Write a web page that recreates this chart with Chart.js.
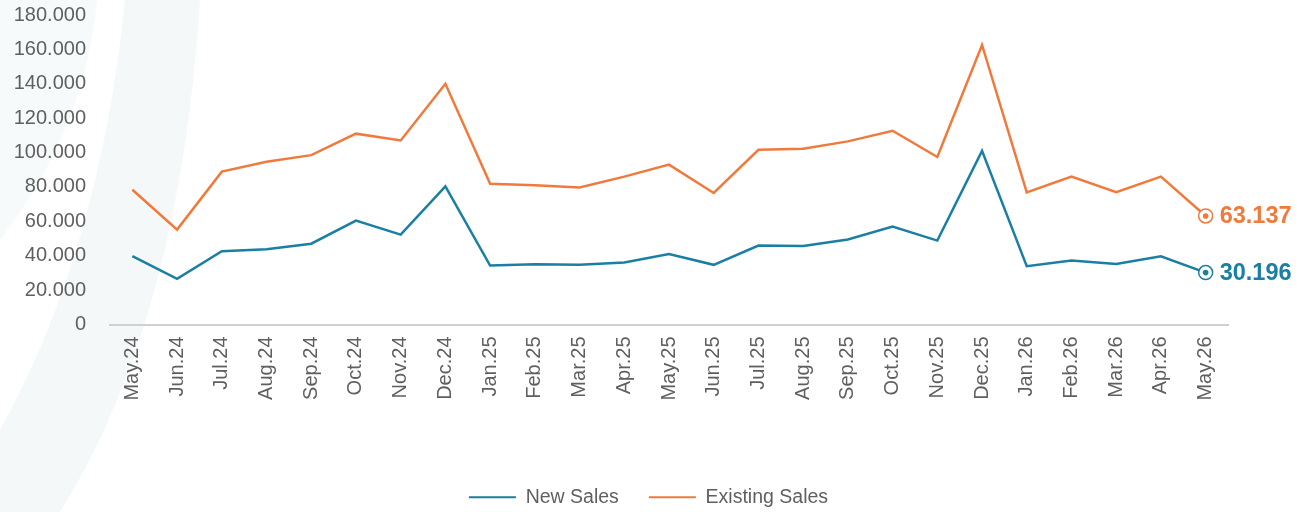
<!DOCTYPE html>
<html>
<head>
<meta charset="utf-8">
<script src="https://cdn.jsdelivr.net/npm/chart.js@4.4.1/dist/chart.umd.min.js"></script>
<style>
  html, body { margin: 0; padding: 0; background: #ffffff; }
  #wrap { width: 1297px; height: 512px; position: relative; }
</style>
</head>
<body>
<div id="wrap"><canvas id="c" width="1297" height="512"></canvas></div>
<script>
const categories = ['May.24','Jun.24','Jul.24','Aug.24','Sep.24','Oct.24','Nov.24','Dec.24',
  'Jan.25','Feb.25','Mar.25','Apr.25','May.25','Jun.25','Jul.25','Aug.25','Sep.25','Oct.25','Nov.25','Dec.25',
  'Jan.26','Feb.26','Mar.26','Apr.26','May.26'];
const newSales = [39700, 26500, 42600, 43800, 47000, 60400, 52300, 80300,
  34300, 35000, 34700, 36000, 41000, 34700, 45900, 45700, 49400, 56900, 48800, 101000,
  33900, 37200, 35200, 39700, 30196];
const existingSales = [78400, 55200, 88900, 94700, 98500, 111000, 107000, 140000,
  81900, 81000, 79700, 86000, 93000, 76500, 101600, 102200, 106500, 112700, 97400, 162600,
  76800, 86100, 77000, 86000, 63137];
const seriesNames = ['New Sales', 'Existing Sales'];
const seriesColors = ['#1a7fa3', '#f07a3c'];
const yMin = 0, yMax = 180000, yStep = 20000;

function fmtThousands(v) {
  return String(Math.round(v)).replace(/\B(?=(\d{3})+(?!\d))/g, '.');
}

const FONT = "'Liberation Sans', Arial, sans-serif";
const TEXT_COLOR = '#5f5f5f';

const bgPlugin = {
  id: 'bgShape',
  beforeDraw(chart) {
    const ctx = chart.ctx;
    ctx.save();
    ctx.fillStyle = '#ffffff';
    ctx.fillRect(0, 0, chart.width, chart.height);
    ctx.fillStyle = '#f4f8f9';
    ctx.beginPath();
    ctx.moveTo(125, 0);
    ctx.lineTo(200, 0);
    ctx.quadraticCurveTo(180, 320, 60, 512);
    ctx.lineTo(0, 512);
    ctx.lineTo(0, 430);
    ctx.quadraticCurveTo(100, 250, 125, 0);
    ctx.closePath();
    ctx.fill();
    ctx.fillStyle = '#f7fafb';
    ctx.beginPath();
    ctx.moveTo(0, 0);
    ctx.lineTo(97, 0);
    ctx.quadraticCurveTo(85, 130, 0, 240);
    ctx.closePath();
    ctx.fill();
    ctx.restore();
  }
};

const endLabelPlugin = {
  id: 'endLabels',
  afterDatasetsDraw(chart) {
    const ctx = chart.ctx;
    ctx.save();
    chart.data.datasets.forEach((ds, i) => {
      const meta = chart.getDatasetMeta(i);
      const last = meta.data.length - 1;
      const pt = meta.data[last];
      const color = ds.borderColor;
      ctx.beginPath();
      ctx.arc(pt.x, pt.y, 2.8, 0, Math.PI * 2);
      ctx.fillStyle = color;
      ctx.fill();
      ctx.font = 'bold 23.5px ' + FONT;
      ctx.textAlign = 'left';
      ctx.textBaseline = 'middle';
      ctx.fillText(fmtThousands(ds.data[last]), pt.x + 14, pt.y + 1);
    });
    ctx.restore();
  }
};

const lastIdx = categories.length - 1;
function mkDataset(name, data, color) {
  return {
    label: name,
    data: data,
    borderColor: color,
    backgroundColor: color,
    borderWidth: 2.5,
    tension: 0,
    pointRadius: (c) => c.dataIndex === lastIdx ? 7 : 0,
    pointHoverRadius: 0,
    pointBackgroundColor: '#ffffff',
    pointBorderColor: color,
    pointBorderWidth: 1.5
  };
}

new Chart(document.getElementById('c'), {
  type: 'line',
  data: {
    labels: categories,
    datasets: [
      mkDataset(seriesNames[0], newSales, seriesColors[0]),
      mkDataset(seriesNames[1], existingSales, seriesColors[1])
    ]
  },
  options: {
    responsive: false,
    animation: false,
    devicePixelRatio: 1,
    layout: { padding: { top: 15, right: 0, bottom: -5, left: 0 } },
    plugins: {
      tooltip: { enabled: false },
      legend: {
        position: 'bottom',
        labels: {
          boxWidth: 47,
          boxHeight: 2,
          padding: 30,
          color: TEXT_COLOR,
          font: { family: FONT, size: 19.5 },
          generateLabels(chart) {
            return chart.data.datasets.map((ds, i) => ({
              text: ds.label,
              fillStyle: ds.borderColor,
              strokeStyle: ds.borderColor,
              lineWidth: 0,
              hidden: false,
              datasetIndex: i,
              fontColor: TEXT_COLOR
            }));
          }
        }
      }
    },
    scales: {
      x: {
        offset: true,
        grid: { display: false, drawTicks: false },
        border: { display: true, color: '#d0d0d0', width: 2 },
        ticks: {
          color: TEXT_COLOR,
          font: { family: FONT, size: 20 },
          minRotation: 90,
          maxRotation: 90,
          autoSkip: false,
          padding: 12
        },
        afterFit(scale) {
          scale.height = 133;
          scale.paddingLeft = 0;
          scale.paddingRight = 69;
        }
      },
      y: {
        min: yMin,
        max: yMax,
        grid: { display: false, drawTicks: false },
        border: { display: false },
        ticks: {
          stepSize: yStep,
          color: TEXT_COLOR,
          font: { family: FONT, size: 20 },
          padding: 24,
          callback: (v) => fmtThousands(v)
        },
        afterFit(scale) {
          scale.width = 110;
          scale.paddingTop = 0;
          scale.paddingBottom = 0;
        }
      }
    }
  },
  plugins: [bgPlugin, endLabelPlugin]
});
</script>
</body>
</html>
